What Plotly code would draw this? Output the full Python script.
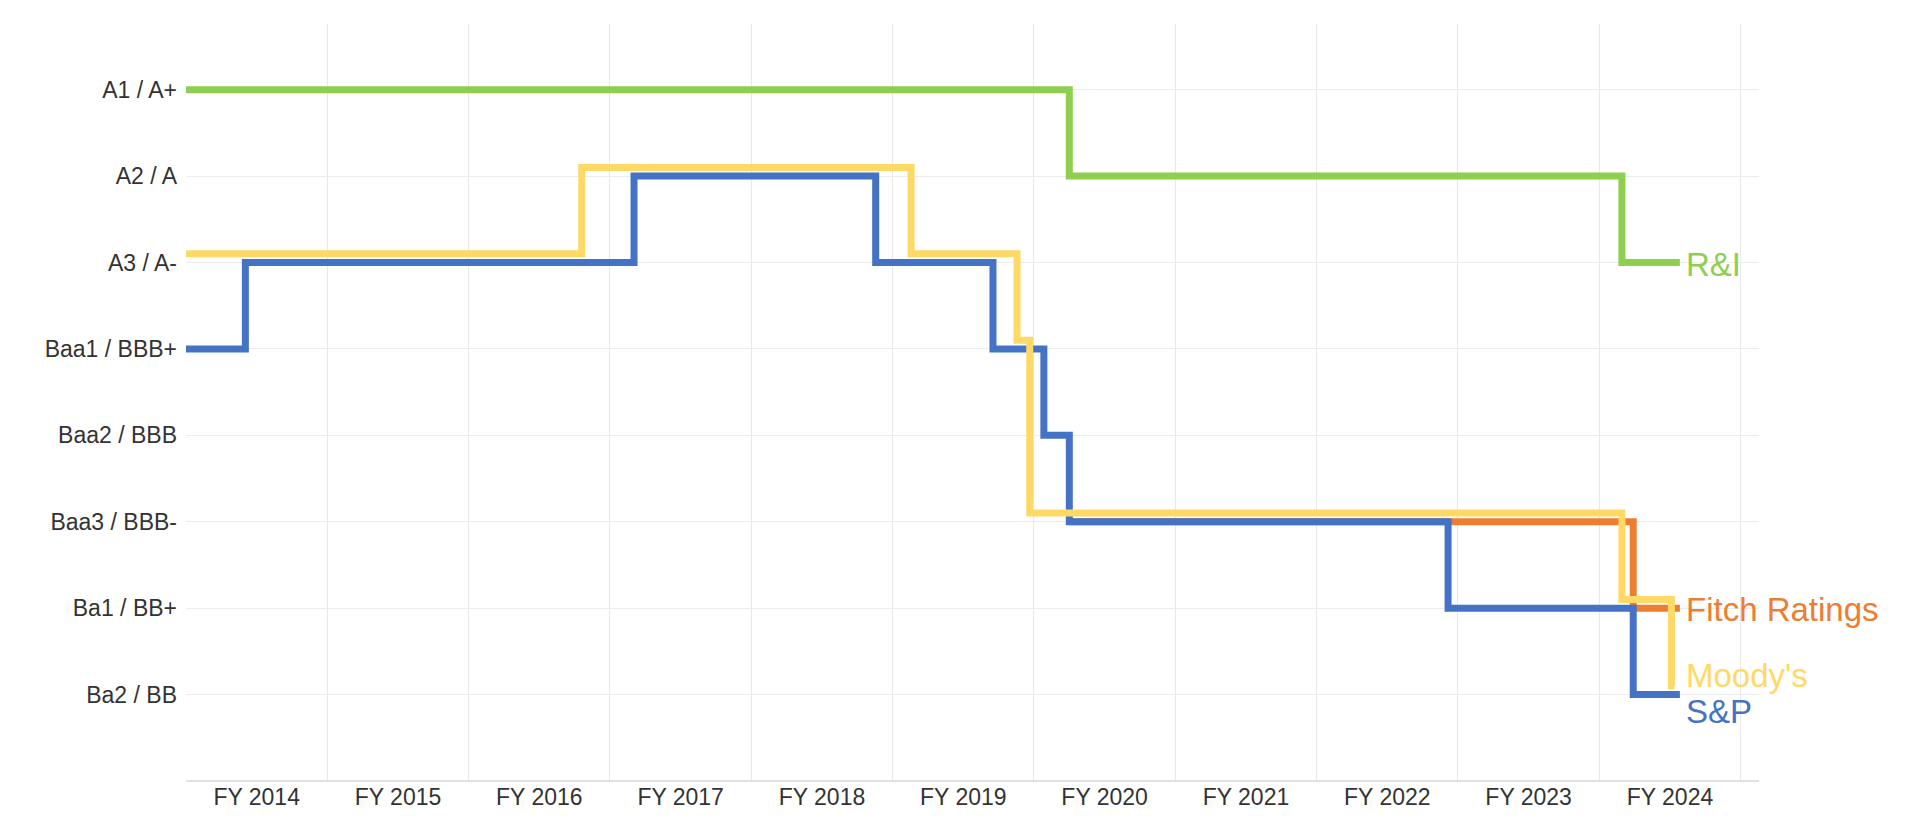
import plotly.graph_objects as go

years = ["FY 2014","FY 2015","FY 2016","FY 2017","FY 2018","FY 2019","FY 2020","FY 2021","FY 2022","FY 2023","FY 2024"]
ratings = ["Ba2 / BB","Ba1 / BB+","Baa3 / BBB-","Baa2 / BBB","Baa1 / BBB+","A3 / A-","A2 / A","A1 / A+"]

# step series: x = change points (fiscal-year units from start), y = rating level (1=Ba2 ... 8=A1)
ri_x = [0, 6.25, 10.16, 10.57]
ri_y = [8, 7, 6, 6]
fitch_x = [6.25, 10.24, 10.57]
fitch_y = [3, 2, 2]
sp_x = [0, 0.42, 3.17, 4.88, 5.71, 6.07, 6.25, 8.93, 10.24, 10.57]
sp_y = [5, 6, 7, 6, 5, 4, 3, 2, 1, 1]
moodys_x = [0, 2.80, 5.13, 5.88, 5.97, 10.16, 10.51, 10.53]
moodys_y = [6, 7, 6, 5, 3, 2, 1, 1]

series = [
    ("R&I", ri_x, ri_y, "#8FCF4F", 0.0, 5.98),
    ("Fitch Ratings", fitch_x, fitch_y, "#ED7D31", 0.0, 1.98),
    ("S&P", sp_x, sp_y, "#4472C4", 0.0, 0.8),
    ("Moody's", moodys_x, moodys_y, "#FFD966", 0.1, 1.22),
]

fig = go.Figure()
for name, xs, ys, col, off, ly in series:
    fig.add_trace(go.Scatter(x=xs, y=[v + off for v in ys], mode="lines",
                             line=dict(color=col, width=7, shape="hv"), name=name,
                             hoverinfo="skip"))
    fig.add_annotation(x=10.6, y=ly, xref="x", yref="y", text=name, showarrow=False,
                       xanchor="left", yanchor="middle", font=dict(size=33, color=col,
                       family="Liberation Sans, Arial"))

fig.update_layout(
    width=1930, height=836, showlegend=False, plot_bgcolor="white", paper_bgcolor="white",
    margin=dict(l=178, r=179, t=16, b=63),
    font=dict(family="Liberation Sans, Arial", size=23, color="#333333"),
)
fig.update_xaxes(range=[0, 11.13], tickvals=[i + 0.5 for i in range(11)], ticktext=years,
                 showgrid=False, zeroline=False, ticks="",
                 minor=dict(tickvals=list(range(12)), showgrid=True, gridcolor="#e8e8e8", gridwidth=1))
fig.update_yaxes(range=[0, 8.76], tickvals=list(range(1, 9)), ticktext=ratings,
                 showgrid=True, gridcolor="#ececec", zeroline=True, zerolinecolor="#e0e0e0",
                 ticks="", ticklabelstandoff=8)
fig.write_html("out.html")
